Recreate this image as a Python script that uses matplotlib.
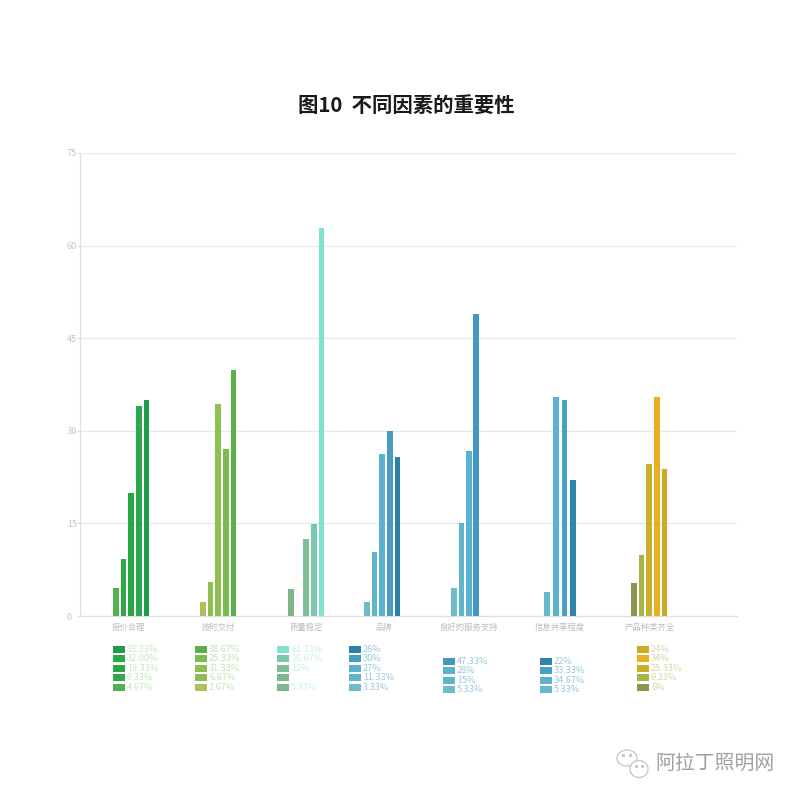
import matplotlib
matplotlib.use("Agg")
import matplotlib.pyplot as plt
from matplotlib.patches import Ellipse, Rectangle

plt.rcParams['font.family'] = ['Noto Sans CJK SC', 'DejaVu Sans']

title = "图10  不同因素的重要性"
watermark = "阿拉丁照明网"
y_ticks = [0, 15, 30, 45, 60, 75]
categories = ["报价合理", "按时交付", "质量稳定", "品牌", "良好的服务支持", "信息共享程度", "产品种类齐全"]

# bar heights (0 = empty slot)
baojia = [4.5, 9.2, 19.9, 34.0, 35.0]
jiaofu = [2.3, 5.5, 34.3, 27.0, 39.8]
zhiliang = [4.4, 0, 12.4, 14.9, 62.9]
pinpai = [2.2, 10.3, 26.2, 30.0, 25.8]
fuwu = [4.5, 15.0, 26.7, 49.0]
xinxi = [3.9, 35.4, 35.0, 22.0]
zhonglei = [5.3, 9.9, 24.6, 35.4, 23.8]
all_values = [baojia, jiaofu, zhiliang, pinpai, fuwu, xinxi, zhonglei]

# legend labels, top to bottom
labels_baojia = ["33.33%", "32.00%", "19.33%", "9.33%", "4.67%"]
labels_jiaofu = ["38.67%", "25.33%", "31.33%", "6.67%", "2.67%"]
labels_zhiliang = ["61.33%", "16.67%", "12%", "", "5.33%"]
labels_pinpai = ["26%", "30%", "27%", "11.33%", "3.33%"]
labels_fuwu = ["47.33%", "28%", "15%", "5.33%"]
labels_xinxi = ["22%", "33.33%", "34.67%", "5.33%"]
labels_zhonglei = ["24%", "34%", "25.33%", "9.33%", "6%"]
all_labels = [labels_baojia, labels_jiaofu, labels_zhiliang, labels_pinpai,
              labels_fuwu, labels_xinxi, labels_zhonglei]

# bar colours, left to right (legend shows them reversed)
colors_baojia = ["#55b04f", "#30a84a", "#27a845", "#2aa84c", "#1f9c4c"]
colors_jiaofu = ["#aebf5e", "#8cbf52", "#8cc152", "#7dbb50", "#5cb04a"]
colors_zhiliang = ["#7fb58a", "#7fb58a", "#7fbf98", "#7cc8ae", "#7fe3cf"]
colors_pinpai = ["#6fbcc4", "#5fb5ce", "#5bb1d0", "#4a9bc0", "#2f80a8"]
colors_fuwu = ["#6fbcc8", "#5db5ce", "#5bb1d0", "#4298bf"]
colors_xinxi = ["#66b8cc", "#5bb1d0", "#4a9fc4", "#2f85ae"]
colors_zhonglei = ["#8c9650", "#a8b444", "#c8b02a", "#e8b020", "#cfaa22"]
all_colors = [colors_baojia, colors_jiaofu, colors_zhiliang, colors_pinpai,
              colors_fuwu, colors_xinxi, colors_zhonglei]

text_colors = ["#c9e8c0", "#c5e3b4", "#c8f0ea", "#9cc9dc", "#9cc9dc", "#9cc9dc", "#d8d6a8"]

# layout, in reference pixels
group_start = [116, 203, 291, 367, 454, 547, 634]
group_step = [7.6, 7.6, 7.6, 7.6, 7.4, 8.7, 7.6]
label_x = [129, 218, 306, 384, 469, 560, 650]
legend_x = [113, 195, 277, 349, 443, 540, 637]
legend_top = [649, 649, 649, 649, 661, 661, 649]

fig = plt.figure(figsize=(8, 8), dpi=100)
ax = fig.add_axes([80 / 800, 184 / 800, 657 / 800, 463 / 800])
ax.set_xlim(80, 737)
ax.set_ylim(0, 75)

for g, values in enumerate(all_values):
    for i, v in enumerate(values):
        if v > 0:
            ax.bar(group_start[g] + i * group_step[g], v, width=5.7,
                   color=all_colors[g][i], zorder=3)

ax.set_yticks(y_ticks)
ax.set_yticklabels(y_ticks, fontsize=6.5, color="#c4c4c4", ha='left')
ax.set_xticks(label_x)
ax.set_xticklabels(categories, fontsize=6.0, color="#bdbdbd", va='center')
ax.tick_params(axis='y', length=2, width=0.8, color="#dcdcdc", pad=7.4)
ax.tick_params(axis='x', length=0, pad=8)
ax.grid(axis='y', color="#e8e8e8", linewidth=0.9, zorder=0)
for side in ['top', 'right']:
    ax.spines[side].set_visible(False)
for side in ['left', 'bottom']:
    ax.spines[side].set_color("#e0e0e0")
    ax.spines[side].set_linewidth(0.9)

# overlay in pixel coordinates for title, legends and watermark
over = fig.add_axes([0, 0, 1, 1])
over.set_xlim(0, 800)
over.set_ylim(800, 0)
over.axis('off')
over.patch.set_alpha(0)

over.text(406, 105, title, fontsize=14.7, fontweight='bold', color="#1a1a1a",
          ha='center', va='center')

for g, labels in enumerate(all_labels):
    colors = all_colors[g][::-1]
    for i, lab in enumerate(labels):
        y = legend_top[g] + i * 9.6
        over.add_patch(Rectangle((legend_x[g], y - 3.5), 12, 7, color=colors[i], lw=0))
        over.text(legend_x[g] + 14, y, lab, fontsize=6.6, color=text_colors[g],
                  ha='left', va='center')

# wechat mark
over.add_patch(Ellipse((627, 758), 20, 16, fill=False, ec="#c4c4c4", lw=0.9))
over.add_patch(Ellipse((639, 769), 18, 17, fc="white", ec="#c4c4c4", lw=0.9))
over.plot([623, 630, 636, 642], [755, 755, 766, 766], ls='none', marker='o', ms=1.4, color="#c4c4c4")
over.text(715, 763, watermark, fontsize=14.3, color="#a0a0a0", ha='center', va='center')

fig.savefig("out.png", dpi=100)
